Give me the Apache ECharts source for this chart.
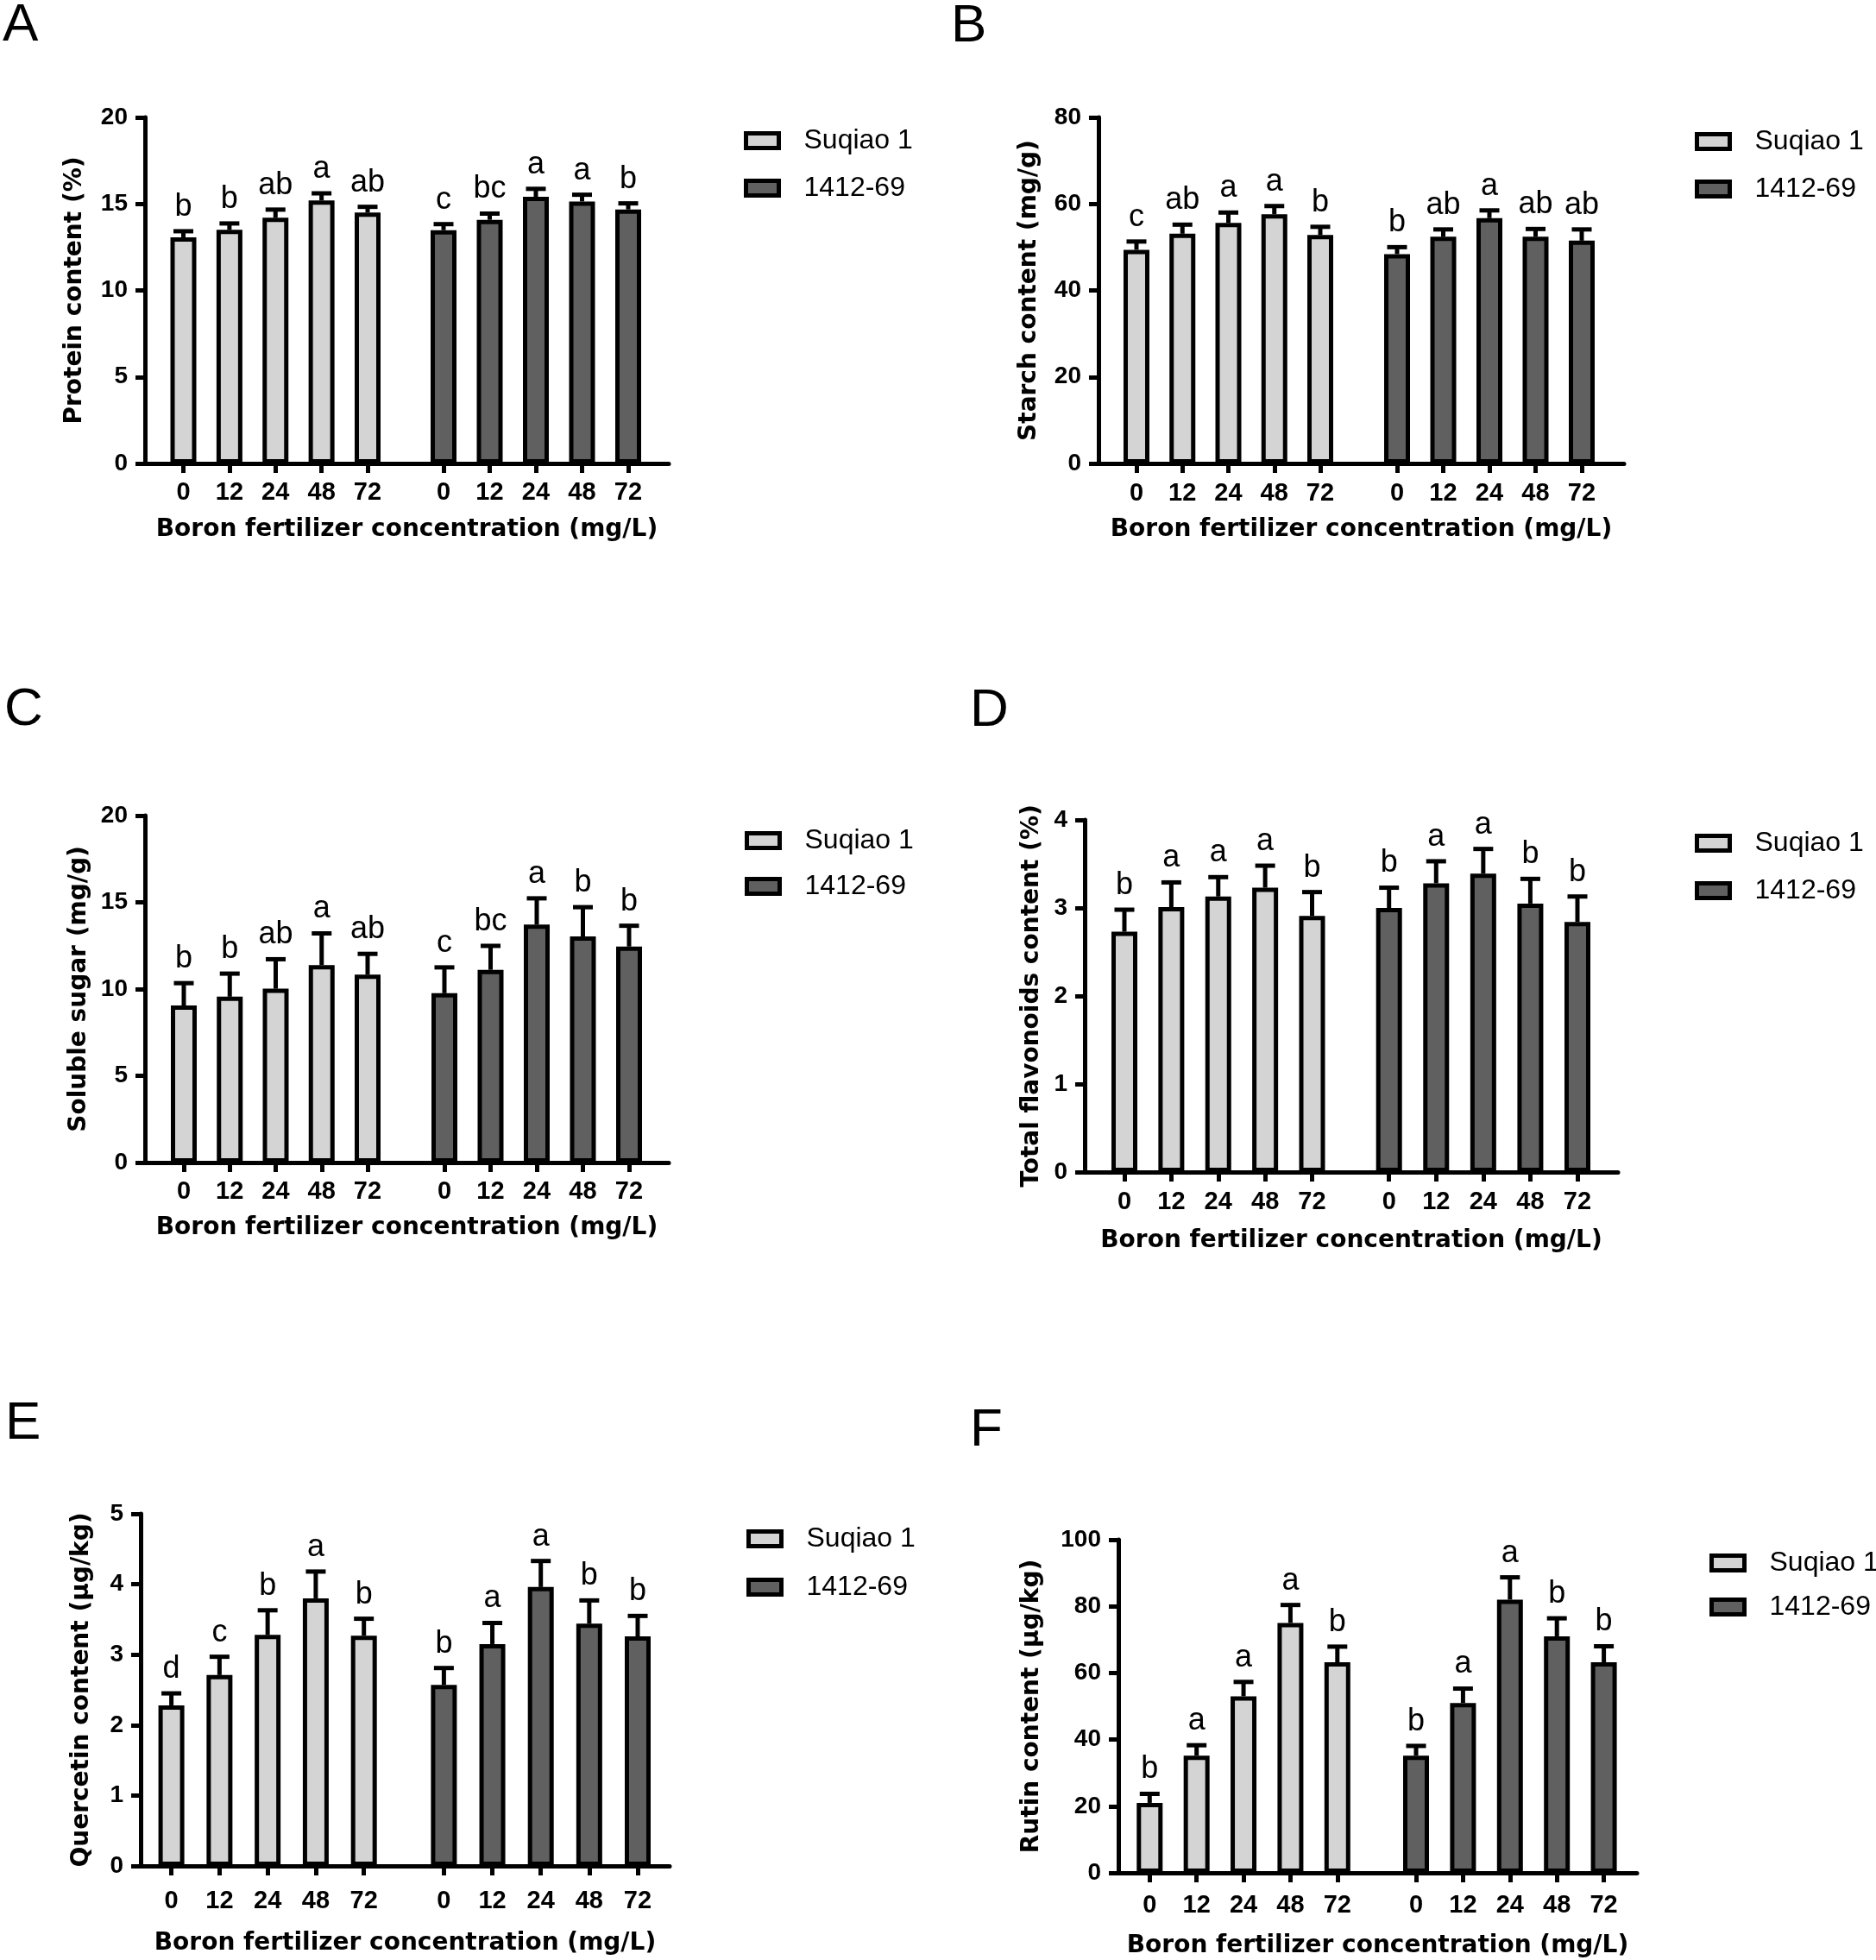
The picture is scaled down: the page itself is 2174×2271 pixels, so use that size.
<!DOCTYPE html>
<html>
<head>
<meta charset="utf-8">
<script src="https://cdn.jsdelivr.net/npm/echarts@6/dist/echarts.min.js"></script>
<style>
html,body{margin:0;padding:0;background:#fff;}
#chart{width:2174px;height:2271px;}
</style>
</head>
<body>
<div id="chart"></div>
<script>
// ---------- data ----------
const concentrations = ['0', '12', '24', '48', '72'];
const varieties = ['Suqiao 1', '1412-69'];
const panelLetters = ['A', 'B', 'C', 'D', 'E', 'F'];
const yTitles = ['Protein content (%)', 'Starch content (mg/g)', 'Soluble sugar (mg/g)',
  'Total flavonoids content (%)', 'Quercetin content (μg/kg)', 'Rutin content (μg/kg)'];
const xTitle = 'Boron fertilizer concentration (mg/L)';
const yMaxes = [20, 80, 20, 4, 5, 100];
const yIntervals = [5, 20, 5, 1, 1, 20];

const proteinSuqiao = [13.07, 13.5, 14.2, 15.2, 14.5];
const proteinSuqiaoSD = [0.35, 0.37, 0.47, 0.41, 0.33];
const proteinSuqiaoLetters = ['b', 'b', 'ab', 'a', 'ab'];
const protein1412 = [13.48, 14.08, 15.41, 15.14, 14.68];
const protein1412SD = [0.35, 0.36, 0.46, 0.39, 0.35];
const protein1412Letters = ['c', 'bc', 'a', 'a', 'b'];

const starchSuqiao = [49.4, 53.1, 55.6, 57.6, 52.8];
const starchSuqiaoSD = [1.9, 2.1, 2.4, 1.9, 1.9];
const starchSuqiaoLetters = ['c', 'ab', 'a', 'a', 'b'];
const starch1412 = [48.4, 52.4, 56.7, 52.4, 51.5];
const starch1412SD = [1.6, 1.7, 1.8, 1.8, 2.6];
const starch1412Letters = ['b', 'ab', 'a', 'ab', 'ab'];

const sugarSuqiao = [9.05, 9.56, 10.02, 11.38, 10.83];
const sugarSuqiaoSD = [1.29, 1.33, 1.70, 1.83, 1.20];
const sugarSuqiaoLetters = ['b', 'b', 'ab', 'a', 'ab'];
const sugar1412 = [9.76, 11.11, 13.72, 13.03, 12.45];
const sugar1412SD = [1.49, 1.38, 1.51, 1.69, 1.20];
const sugar1412Letters = ['c', 'bc', 'a', 'b', 'b'];

const flavSuqiao = [2.73, 3.01, 3.13, 3.23, 2.91];
const flavSuqiaoSD = [0.25, 0.28, 0.22, 0.25, 0.27];
const flavSuqiaoLetters = ['b', 'a', 'a', 'a', 'b'];
const flav1412 = [3.0, 3.28, 3.39, 3.05, 2.84];
const flav1412SD = [0.23, 0.25, 0.28, 0.28, 0.29];
const flav1412Letters = ['b', 'a', 'a', 'b', 'b'];

const querSuqiao = [2.28, 2.71, 3.28, 3.80, 3.27];
const querSuqiaoSD = [0.17, 0.26, 0.35, 0.38, 0.24];
const querSuqiaoLetters = ['d', 'c', 'b', 'a', 'b'];
const quer1412 = [2.57, 3.15, 3.96, 3.44, 3.26];
const quer1412SD = [0.24, 0.30, 0.37, 0.33, 0.29];
const quer1412Letters = ['b', 'a', 'a', 'b', 'b'];

const rutinSuqiao = [21.0, 35.2, 53.0, 75.0, 63.2];
const rutinSuqiaoSD = [2.7, 3.1, 4.3, 5.4, 4.7];
const rutinSuqiaoLetters = ['b', 'a', 'a', 'a', 'b'];
const rutin1412 = [35.2, 51.0, 82.0, 71.0, 63.2];
const rutin1412SD = [2.9, 4.3, 6.7, 5.4, 4.8];
const rutin1412Letters = ['b', 'a', 'a', 'b', 'b'];

const panelData = [
  [[proteinSuqiao, proteinSuqiaoSD, proteinSuqiaoLetters], [protein1412, protein1412SD, protein1412Letters]],
  [[starchSuqiao, starchSuqiaoSD, starchSuqiaoLetters], [starch1412, starch1412SD, starch1412Letters]],
  [[sugarSuqiao, sugarSuqiaoSD, sugarSuqiaoLetters], [sugar1412, sugar1412SD, sugar1412Letters]],
  [[flavSuqiao, flavSuqiaoSD, flavSuqiaoLetters], [flav1412, flav1412SD, flav1412Letters]],
  [[querSuqiao, querSuqiaoSD, querSuqiaoLetters], [quer1412, quer1412SD, quer1412Letters]],
  [[rutinSuqiao, rutinSuqiaoSD, rutinSuqiaoLetters], [rutin1412, rutin1412SD, rutin1412Letters]]
];

// ---------- layout (pixels) ----------
const layout = [
  { axL: 168, axR: 775, top: 136, bot: 537, g: [[212.5, 426], [514, 728]], yGap: 67, xGap: 63, lblM: 19, leg: [862, 147, 23], tag: [3, 30] },
  { axL: 1273, axR: 1882, top: 136, bot: 537, g: [[1317, 1530], [1619, 1833]], yGap: 66, xGap: 63, lblM: 20, leg: [1964, 148, 23], tag: [1102, 31] },
  { axL: 168, axR: 775, top: 945, bot: 1347, g: [[213, 426], [515, 729]], yGap: 62, xGap: 62, lblM: 19, leg: [863, 958, 21], tag: [5, 823] },
  { axL: 1257, axR: 1875, top: 950, bot: 1358, g: [[1303, 1520.5], [1609.7, 1828]], yGap: 47, xGap: 66, lblM: 20, leg: [1964, 961, 23], tag: [1124, 824] },
  { axL: 163, axR: 776, top: 1754, bot: 2162, g: [[198.6, 421.7], [514.4, 739]], yGap: 54, xGap: 76, lblM: 26, leg: [865, 1767, 24], tag: [6, 1650] },
  { axL: 1296, axR: 1897, top: 1784, bot: 2170, g: [[1332.3, 1549.8], [1641, 1858.6]], yGap: 86, xGap: 71, lblM: 23, leg: [1981, 1795, 19], tag: [1124, 1658] }
];

const colors = ['#d4d4d4', '#606060'];
const ARIAL = "'Liberation Sans', Arial, sans-serif";
const DEJA = "'DejaVu Sans', sans-serif";

function errRender(letters) {
  return function (params, api) {
    const i = api.value(0), m = api.value(1), s = api.value(2);
    const p0 = api.coord([i, m]);
    const p1 = api.coord([i, m + s]);
    const half = 11.5;
    return {
      type: 'group',
      children: [
        { type: 'line', shape: { x1: p0[0], y1: p0[1], x2: p1[0], y2: p1[1] }, style: { stroke: '#000', lineWidth: 5 } },
        { type: 'line', shape: { x1: p1[0] - half, y1: p1[1], x2: p1[0] + half, y2: p1[1] }, style: { stroke: '#000', lineWidth: 5 } },
        { type: 'text', x: p1[0], y: p1[1] - 10, style: { text: letters[params.dataIndex], align: 'center', verticalAlign: 'bottom', font: '36px ' + ARIAL, fill: '#000' } }
      ]
    };
  };
}

const grid = [], xAxis = [], yAxis = [], series = [], legend = [], graphic = [];

layout.forEach((L, p) => {
  const base = grid.length;
  const h = L.bot - L.top;
  // main frame grid
  grid.push({ left: L.axL, top: L.top, width: L.axR - L.axL, height: h, containLabel: false, outerBoundsMode: 'none' });
  xAxis.push({
    gridIndex: base, type: 'value', min: 0, max: 1,
    axisLine: { show: true, onZero: false, lineStyle: { color: '#000', width: 5 } },
    axisTick: { show: false }, axisLabel: { show: false }, splitLine: { show: false },
    name: xTitle, nameLocation: 'middle', nameGap: L.xGap, nameMoveOverlap: false,
    nameTextStyle: { fontFamily: DEJA, fontWeight: 'bold', fontSize: 28, color: '#000' }
  });
  yAxis.push({
    gridIndex: base, type: 'value', min: 0, max: yMaxes[p], interval: yIntervals[p],
    axisLine: { show: true, lineStyle: { color: '#000', width: 5 } },
    axisTick: { show: true, length: 11, lineStyle: { color: '#000', width: 5 } },
    axisLabel: { fontFamily: ARIAL, fontWeight: 'bold', fontSize: 28, color: '#000', margin: 20 },
    splitLine: { show: false },
    name: yTitles[p], nameLocation: 'middle', nameGap: L.yGap, nameMoveOverlap: false,
    nameTextStyle: { fontFamily: DEJA, fontWeight: 'bold', fontSize: 28, color: '#000' }
  });
  // group sub grids
  L.g.forEach((g, k) => {
    const gi = grid.length;
    grid.push({ left: g[0], top: L.top, width: g[1] - g[0], height: h, containLabel: false, outerBoundsMode: 'none' });
    xAxis.push({
      gridIndex: gi, type: 'category', data: concentrations, boundaryGap: false,
      axisLine: { show: false },
      axisTick: { show: true, interval: 0, length: 11, lineStyle: { color: '#000', width: 5 } },
      axisLabel: { interval: 0, fontFamily: ARIAL, fontWeight: 'bold', fontSize: 29, color: '#000', margin: L.lblM },
      splitLine: { show: false }
    });
    yAxis.push({ gridIndex: gi, type: 'value', min: 0, max: yMaxes[p], show: false, splitLine: { show: false } });
    const [vals, sds, letters] = panelData[p][k];
    series.push({
      type: 'bar', name: varieties[k], xAxisIndex: gi, yAxisIndex: gi,
      data: vals, barWidth: 30, clip: false, silent: true,
      itemStyle: { color: colors[k], borderColor: '#000', borderWidth: 5 }
    });
    series.push({
      type: 'custom', name: 'err' + p + k, xAxisIndex: gi, yAxisIndex: gi, z: 5, silent: true,
      data: vals.map((v, i) => [i, v, sds[i]]),
      encode: { x: 0, y: 1 },
      renderItem: errRender(letters)
    });
  });
  legend.push({
    data: varieties, orient: 'vertical', left: L.leg[0], top: L.leg[1], itemGap: L.leg[2],
    itemWidth: 38, itemHeight: 17, icon: 'rect', padding: 0, selectedMode: false,
    itemStyle: { borderColor: '#000', borderWidth: 5 },
    textStyle: { fontFamily: ARIAL, fontSize: 32, color: '#000', lineHeight: 32, padding: [0, 0, 0, 24] }
  });
  graphic.push({
    type: 'text', x: L.tag[0], y: L.tag[1],
    style: { text: panelLetters[p], font: '62px ' + ARIAL, fill: '#000', align: 'left', verticalAlign: 'middle' }
  });
});

const chart = echarts.init(document.getElementById('chart'), null, { renderer: 'canvas' });
chart.setOption({
  backgroundColor: '#fff',
  animation: false,
  grid, xAxis, yAxis, series, legend, graphic
});
</script>
</body>
</html>
